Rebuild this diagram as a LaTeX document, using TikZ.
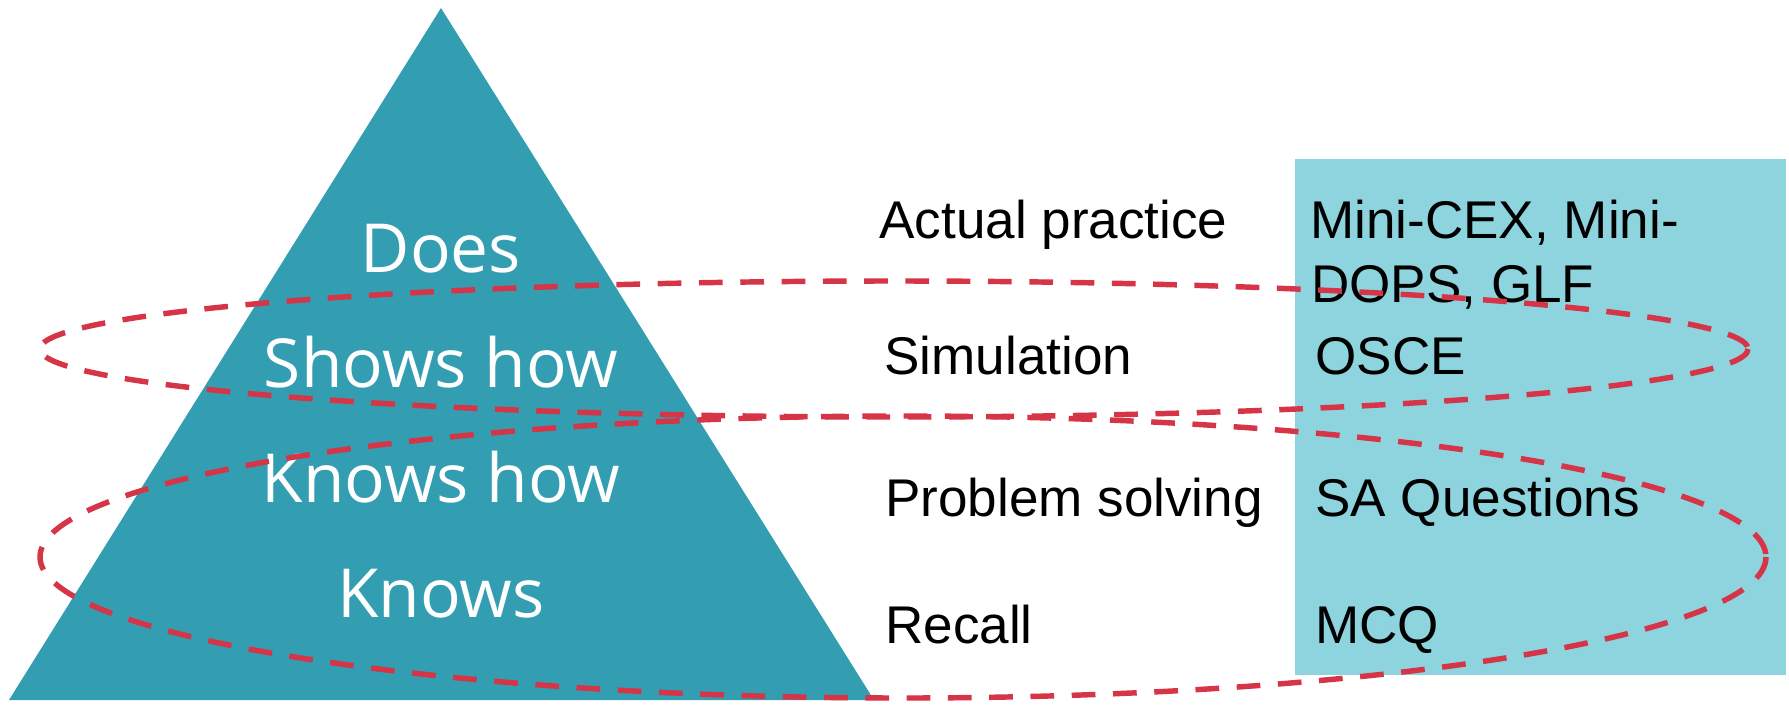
\documentclass[tikz,border=0pt]{standalone}
\usepackage{fontspec}
\setmainfont{Liberation Sans}
\newfontfamily\levelfont{Open Sans}
\definecolor{pyramid}{HTML}{339DB2}
\definecolor{toolbox}{HTML}{8ED4DF}
\definecolor{loopred}{HTML}{D63447}
\tikzset{
	level/.style={text=white,font=\levelfont\fontsize{38.5}{44}\selectfont,anchor=base,inner sep=0pt},
	stage/.style={font=\fontsize{30.2}{36}\selectfont,anchor=base west,inner sep=0pt},
	loopline/.style={draw=loopred,line width=3.1pt,dash pattern=on 13.5pt off 10pt}
}
\begin{document}
\begin{tikzpicture}[x=0.02cm,y=-0.02cm]
		\useasboundingbox (0,0) rectangle (1789,704);
		% pyramid and box of tools
		\fill[pyramid] (441,8) -- (874,700) -- (9,700) -- cycle;
		\fill[toolbox] (1295,159) rectangle (1786,675);
		% levels of the pyramid
		\node[level] (does) at (441,272) {Does};
		\node[level] (shows) at (441,387) {Shows how};
		\node[level] (knowshow) at (441,502) {Knows how};
		\node[level] (knows) at (441,617) {Knows};
		% what is tested
		\node[stage] (practice) at (879,238) {Actual practice};
		\node[stage] (simulation) at (884,374) {Simulation};
		\node[stage] (problem) at (885,516) {Problem solving};
		\node[stage] (recall) at (885,643) {Recall};
		% how it is tested
		\node[stage] (minicex) at (1310,238) {Mini-CEX, Mini-};
		\node[stage] (dops) at (1311,302) {DOPS, GLF};
		\node[stage] (osce) at (1315,374) {OSCE};
		\node[stage] (saq) at (1315,516) {SA Questions};
		\node[stage] (mcq) at (1315,643) {MCQ};
		% loops
		\draw[loopline] (894,349) ellipse [x radius=854,y radius=68];
		\draw[loopline] (903,557) ellipse [x radius=863,y radius=141];
\end{tikzpicture}
\end{document}
